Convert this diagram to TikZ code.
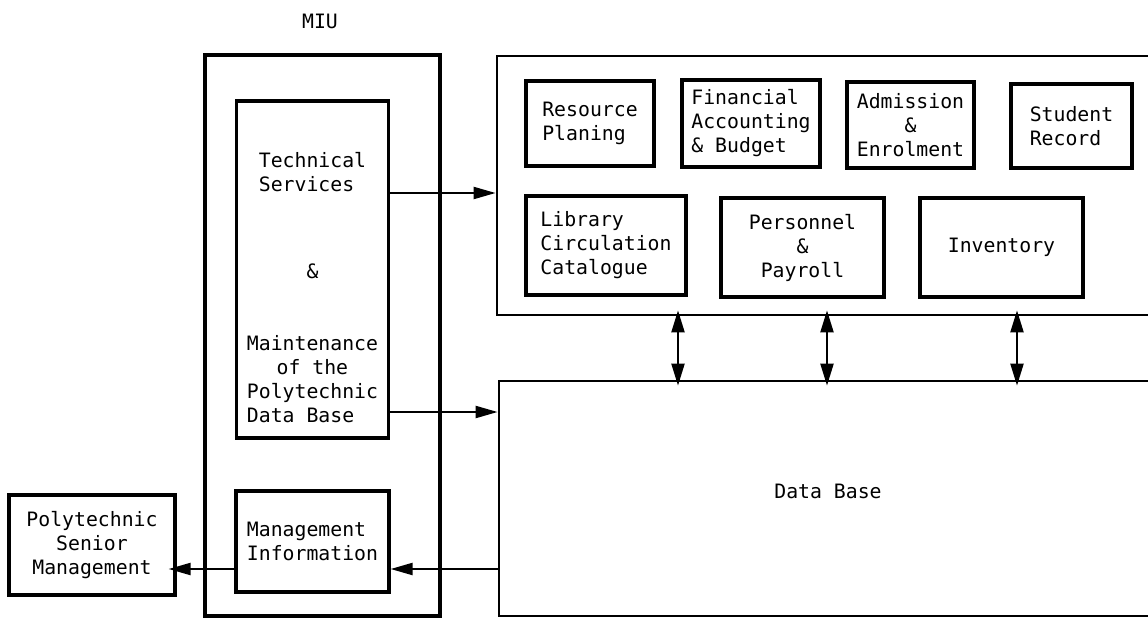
\documentclass[tikz,border=0pt]{standalone}
\usepackage{fontspec}
\newfontfamily\typewr{DejaVu Sans Mono}
\usetikzlibrary{arrows.meta}
\newcommand\diagfont{\typewr\fontsize{19.8}{24}\selectfont}

\begin{document}
\begin{tikzpicture}[x=1pt,y=-1pt,
  box/.style={draw, line width=3.2pt, inner sep=0pt, font=\diagfont},
  frame/.style={draw, line width=2.8pt, inner sep=0pt},
  txt/.style={inner sep=0pt, font=\diagfont},
  flow/.style={line width=2.2pt, -{Triangle[length=22pt,width=12pt]}},
  bothway/.style={line width=2.2pt, shorten <=-6pt, shorten >=-6pt,
    {Triangle[length=22pt,width=13pt]}-{Triangle[length=22pt,width=13pt]}},
]
\useasboundingbox[fill=white] (0,0) rectangle (1148,618);
\clip (0,0) rectangle (1148,618);

% MIU unit
\node[txt] (miu) at (320,21) {MIU};
\node[box, minimum width=235pt, minimum height=561pt] (miubox) at (322.5,335.5) {};
\node[box, minimum width=152pt, minimum height=337pt] (tech) at (312.5,269.5) {};
\node[txt, align=left] (techa) at (312.5,172) {Technical\\Services};
\node[txt] (techamp) at (312.5,271) {\&};
\node[txt, align=left] (techb) at (312.5,379)
  {Maintenance\\\hspace*{1.5em}of the\\Polytechnic\\Data Base};
\node[box, minimum width=153pt, minimum height=101pt, align=left] (mgmt)
  at (312.5,541.5) {Management\\Information};

% senior management
\node[box, minimum width=166pt, minimum height=100pt, align=center] (psm)
  at (92,545) {Polytechnic\\Senior\\Management};

% application systems (open to the right)
\node[frame, minimum width=673pt, minimum height=259pt] (apps) at (833.5,185.5) {};
\node[box, minimum width=128pt, minimum height=85pt, align=left] (res)
  at (590,123.5) {Resource\\Planing};
\node[box, minimum width=138pt, minimum height=87pt, align=left] (fin)
  at (751,123.5) {Financial\\Accounting\\\& Budget};
\node[box, minimum width=127pt, minimum height=86pt, align=center] (adm)
  at (910.5,125) {Admission\\\&\\Enrolment};
\node[box, minimum width=121pt, minimum height=84pt, align=left] (stu)
  at (1071.5,126) {Student\\Record};
\node[box, minimum width=160pt, minimum height=99pt, align=left] (lib)
  at (606,245.5) {Library\\Circulation\\Catalogue};
\node[box, minimum width=163pt, minimum height=99pt, align=center] (per)
  at (802.5,247.5) {Personnel\\\&\\Payroll};
\node[box, minimum width=163pt, minimum height=99pt] (inv)
  at (1001.5,247.5) {Inventory};

% data base (open to the right)
\node[frame, minimum width=671pt, minimum height=235pt] (db) at (834.5,498.5) {};
\node[txt] (dblabel) at (828,491) {Data Base};

% connector levels
\coordinate (l1) at (0,193);
\coordinate (l2) at (0,412);
\coordinate (l3) at (0,569);
\coordinate (c1) at (678,0);
\coordinate (c2) at (827,0);
\coordinate (c3) at (1017,0);

\draw[flow] (tech.east |- l1) -- (apps.west |- l1);
\draw[flow] (tech.east |- l2) -- (db.west |- l2);
\draw[flow] (db.west |- l3) -- (mgmt.east |- l3);
\draw[flow, shorten >=-8pt] (mgmt.west |- l3) -- (psm.east |- l3);
\draw[bothway] (apps.south -| c1) -- (db.north -| c1);
\draw[bothway] (apps.south -| c2) -- (db.north -| c2);
\draw[bothway] (apps.south -| c3) -- (db.north -| c3);
\end{tikzpicture}
\end{document}
